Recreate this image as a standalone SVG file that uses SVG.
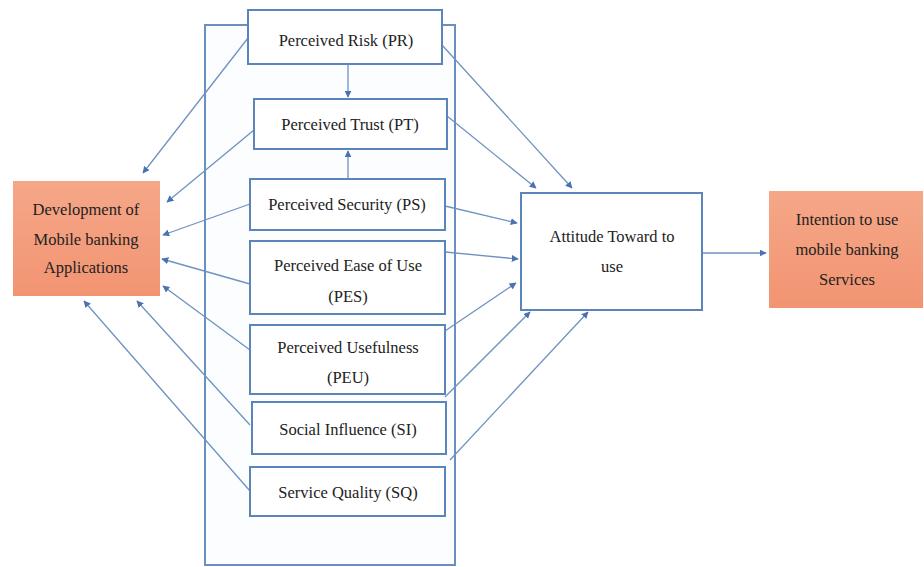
<svg xmlns="http://www.w3.org/2000/svg" width="924" height="567" viewBox="0 0 924 567">
<defs>
<marker id="ah" viewBox="0 0 10 10" refX="9" refY="5" markerWidth="7" markerHeight="7" orient="auto" markerUnits="userSpaceOnUse">
<path d="M0,0 L10,5 L0,10 Z" fill="#4A72B0"/>
</marker>
<linearGradient id="sal" x1="0" y1="0" x2="0" y2="1">
<stop offset="0" stop-color="#F5A788"/>
<stop offset="1" stop-color="#F29472"/>
</linearGradient>
<style>
.box{fill:#fff;stroke:#5B84BA;stroke-width:2}
.cont{fill:#FBFDFF;stroke:#6A8FC0;stroke-width:2}
.org{fill:url(#sal);stroke:none}
.t{font-family:"Liberation Serif","Times New Roman",serif;font-size:16.5px;fill:#222;text-anchor:middle}
.c{fill:none;stroke:#6F92C2;stroke-width:1.3;marker-end:url(#ah)}
</style>
</defs>
<rect width="924" height="567" fill="#fff"/>
<rect id="container" class="cont" x="205" y="25" width="250" height="540"/>

<g id="connectors">
<line class="c" x1="348" y1="64" x2="348" y2="97"/>
<line class="c" x1="348" y1="179" x2="348" y2="151"/>
<line class="c" x1="248" y1="38" x2="143" y2="173"/>
<line class="c" x1="254" y1="130" x2="167" y2="202"/>
<line class="c" x1="250" y1="204" x2="163" y2="235"/>
<line class="c" x1="250" y1="284" x2="162" y2="259"/>
<line class="c" x1="250" y1="350" x2="163" y2="286"/>
<line class="c" x1="250" y1="425" x2="137" y2="301"/>
<line class="c" x1="250" y1="491" x2="84" y2="301"/>
<line class="c" x1="442" y1="45" x2="572" y2="188"/>
<line class="c" x1="447" y1="116" x2="536" y2="188"/>
<line class="c" x1="445" y1="206" x2="517" y2="223"/>
<line class="c" x1="445" y1="252" x2="518" y2="259"/>
<line class="c" x1="445" y1="331" x2="516" y2="283"/>
<line class="c" x1="445" y1="397" x2="530" y2="312"/>
<line class="c" x1="450" y1="460" x2="588" y2="312"/>
<line class="c" x1="702" y1="253" x2="766" y2="253"/>
</g>

<g id="PR"><rect class="box" x="248" y="10" width="194" height="54"/><text class="t" x="346" y="46">Perceived Risk (PR)</text></g>
<g id="PT"><rect class="box" x="254" y="99" width="193" height="50"/><text class="t" x="350" y="130">Perceived Trust (PT)</text></g>
<g id="PS"><rect class="box" x="250" y="179" width="195" height="51"/><text class="t" x="347" y="210">Perceived Security (PS)</text></g>
<g id="PES"><rect class="box" x="250" y="241" width="195" height="73"/><text class="t" x="348" y="271">Perceived Ease of Use</text><text class="t" x="348" y="302">(PES)</text></g>
<g id="PEU"><rect class="box" x="250" y="325" width="195" height="69"/><text class="t" x="348" y="353">Perceived Usefulness</text><text class="t" x="348" y="383">(PEU)</text></g>
<g id="SI"><rect class="box" x="252" y="402" width="194" height="52"/><text class="t" x="348" y="435">Social Influence (SI)</text></g>
<g id="SQ"><rect class="box" x="250" y="467" width="195" height="49"/><text class="t" x="348" y="498">Service Quality (SQ)</text></g>

<g id="DEV"><rect class="org" x="13" y="181" width="147" height="115"/><text class="t" x="86" y="215">Development of</text><text class="t" x="86" y="245">Mobile banking</text><text class="t" x="86" y="273">Applications</text></g>
<g id="ATT"><rect class="box" x="521" y="193" width="181" height="117"/><text class="t" x="612" y="242">Attitude Toward to</text><text class="t" x="612" y="272">use</text></g>
<g id="INT"><rect class="org" x="769" y="191" width="154" height="117"/><text class="t" x="847" y="225">Intention to use</text><text class="t" x="847" y="255">mobile banking</text><text class="t" x="847" y="285">Services</text></g>
</svg>
